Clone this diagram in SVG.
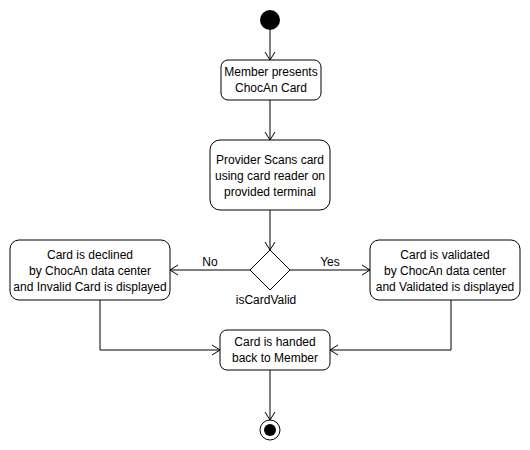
<svg xmlns="http://www.w3.org/2000/svg" width="530" height="450" viewBox="0 0 530 450">
  <style>
    .node { fill: #ffffff; stroke: #000000; stroke-width: 1; }
    .edge { fill: none; stroke: #000000; stroke-width: 1; }
    text { font-family: "Liberation Sans", Arial, sans-serif; font-size: 12px; fill: #000000; text-anchor: middle; }
  </style>
  <defs>
    <marker id="open" markerUnits="userSpaceOnUse" markerWidth="12" markerHeight="12" refX="9" refY="6" orient="auto">
      <path d="M1,1 L9,6 L1,11" fill="none" stroke="#000000" stroke-width="1"/>
    </marker>
  </defs>
  <rect width="530" height="450" fill="#ffffff"/>

  <g id="connectors">
    <line class="edge" x1="270" y1="30" x2="270" y2="60" marker-end="url(#open)"/>
    <line class="edge" x1="270" y1="100" x2="270" y2="140" marker-end="url(#open)"/>
    <line class="edge" x1="270" y1="210" x2="270" y2="250" marker-end="url(#open)"/>
    <line class="edge" x1="250" y1="270" x2="170" y2="270" marker-end="url(#open)"/>
    <line class="edge" x1="290" y1="270" x2="370" y2="270" marker-end="url(#open)"/>
    <path class="edge" d="M100,300 V350 H220" marker-end="url(#open)"/>
    <path class="edge" d="M451,300 V350 H330" marker-end="url(#open)"/>
    <line class="edge" x1="270" y1="370" x2="270" y2="420" marker-end="url(#open)"/>
    <text x="210" y="266">No</text>
    <text x="330" y="266">Yes</text>
  </g>

  <g id="start">
    <circle cx="270" cy="20" r="10" fill="#000000"/>
  </g>

  <g id="member-presents">
    <rect class="node" x="221" y="60" width="100" height="40" rx="7"/>
    <text x="271" y="76">Member presents</text>
    <text x="271" y="92">ChocAn Card</text>
  </g>

  <g id="provider-scans">
    <rect class="node" x="210" y="140" width="120" height="70" rx="10"/>
    <text x="270" y="164">Provider Scans card</text>
    <text x="270" y="180">using card reader on</text>
    <text x="270" y="196">provided terminal</text>
  </g>

  <g id="decision">
    <polygon class="node" points="270,250 290,270 270,290 250,270"/>
    <text x="266" y="304">isCardValid</text>
  </g>

  <g id="declined">
    <rect class="node" x="10" y="240" width="160" height="60" rx="9"/>
    <text x="90" y="259">Card is declined</text>
    <text x="90" y="275">by ChocAn data center</text>
    <text x="90" y="291">and Invalid Card is displayed</text>
  </g>

  <g id="validated">
    <rect class="node" x="370" y="240" width="150" height="60" rx="9"/>
    <text x="445" y="259">Card is validated</text>
    <text x="445" y="275">by ChocAn data center</text>
    <text x="445" y="291">and Validated is displayed</text>
  </g>

  <g id="handed-back">
    <rect class="node" x="220" y="330" width="110" height="40" rx="7"/>
    <text x="275" y="346">Card is handed</text>
    <text x="275" y="362">back to Member</text>
  </g>

  <g id="end">
    <circle cx="270" cy="430" r="10" fill="#ffffff" stroke="#000000" stroke-width="1"/>
    <circle cx="270" cy="430" r="6" fill="#000000"/>
  </g>
</svg>
